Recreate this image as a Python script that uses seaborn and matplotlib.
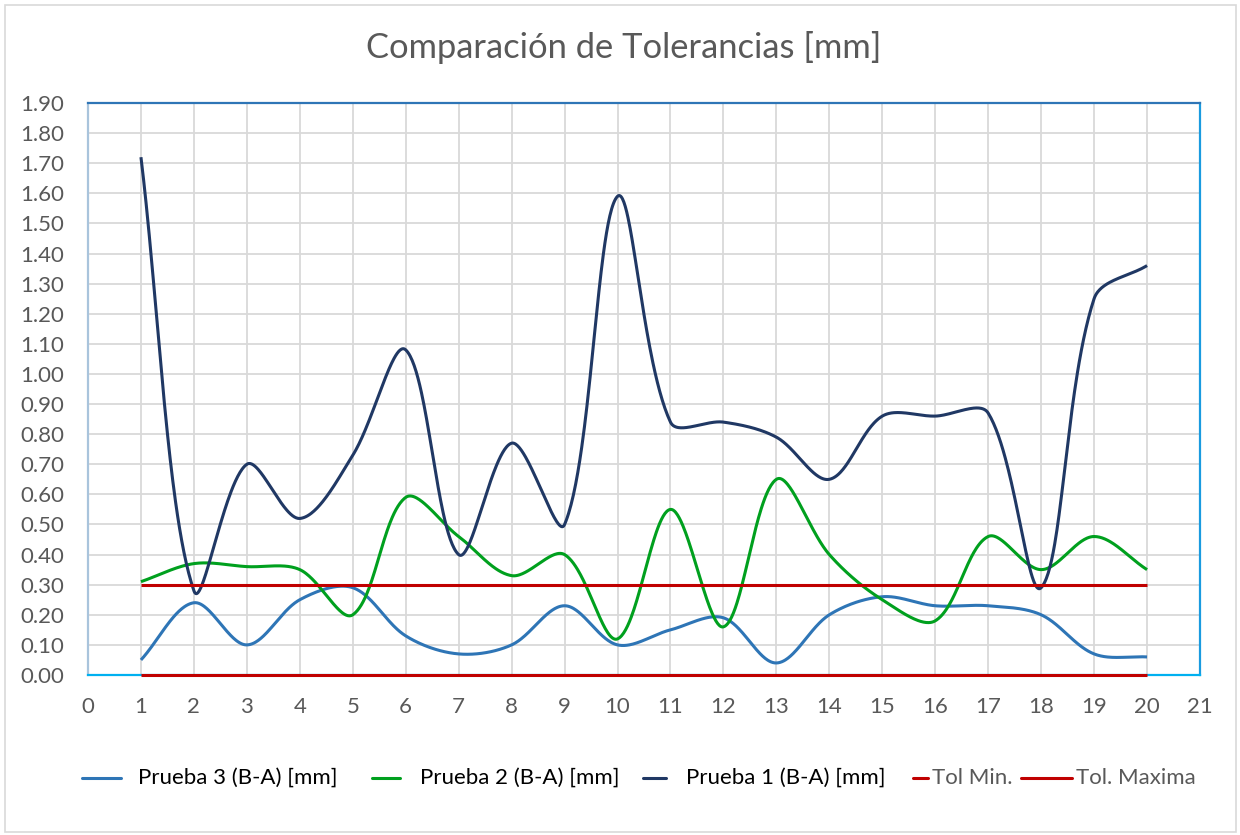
import numpy as np
import pandas as pd
import matplotlib
matplotlib.use("Agg")
import matplotlib.pyplot as plt
from matplotlib.lines import Line2D
from matplotlib.patches import Rectangle
import seaborn as sns

# Measurement data (mm)
muestras = list(range(1, 21))
prueba_3 = [0.05, 0.24, 0.10, 0.25, 0.29, 0.13, 0.07, 0.10, 0.23, 0.10,
            0.15, 0.19, 0.04, 0.20, 0.26, 0.23, 0.23, 0.20, 0.07, 0.06]
prueba_2 = [0.31, 0.37, 0.36, 0.35, 0.20, 0.59, 0.46, 0.33, 0.40, 0.12,
            0.55, 0.16, 0.65, 0.40, 0.25, 0.18, 0.46, 0.35, 0.46, 0.35]
prueba_1 = [1.72, 0.28, 0.70, 0.52, 0.73, 1.08, 0.40, 0.77, 0.50, 1.59,
            0.84, 0.84, 0.79, 0.65, 0.86, 0.86, 0.87, 0.29, 1.25, 1.36]
tol_min = [0.00] * 20
tol_max = [0.30] * 20

series_names = ["Prueba 3 (B-A) [mm]", "Prueba 2 (B-A) [mm]", "Prueba 1 (B-A) [mm]",
                "Tol Min.", "Tol. Maxima"]
series_values = [prueba_3, prueba_2, prueba_1, tol_min, tol_max]
series_colors = ["#2E75B6", "#00A01E", "#203864", "#C00000", "#C00000"]
smooth_flags = [True, True, True, False, False]

x_ticks = list(range(0, 22))
y_ticks = [round(0.1 * i, 2) for i in range(0, 20)]
title = "Comparación de Tolerancias [mm]"

X_LIM = (0, 21)
Y_LIM = (0, 1.9)
AX_RECT = [88 / 1240, 1 - 675 / 835, (1200 - 88) / 1240, (675 - 103) / 835]
FIG_PX = (1240, 835)


def smooth_curve(xs, ys, sx, sy, n=60):
    """Bezier spline through every point, with tangents scaled by the
    on-screen lengths of the neighbouring segments."""
    pts = np.column_stack([np.asarray(xs, float) * sx, np.asarray(ys, float) * sy])
    m = len(pts)
    out = [pts[0]]
    for i in range(m - 1):
        p0 = pts[max(i - 1, 0)]
        p1 = pts[i]
        p2 = pts[i + 1]
        p3 = pts[min(i + 2, m - 1)]
        d01 = np.linalg.norm(p1 - p0)
        d12 = np.linalg.norm(p2 - p1)
        d23 = np.linalg.norm(p3 - p2)
        c1 = p1 + (p2 - p0) * (d12 / (d01 + d12)) / 3.0
        c2 = p2 - (p3 - p1) * (d12 / (d12 + d23)) / 3.0
        t = np.linspace(0, 1, n)[1:, None]
        seg = ((1 - t) ** 3) * p1 + 3 * ((1 - t) ** 2) * t * c1 + 3 * (1 - t) * t ** 2 * c2 + t ** 3 * p2
        out.extend(seg)
    out = np.array(out)
    return out[:, 0] / sx, out[:, 1] / sy


sns.set_theme(style="white")
font_family = ["Lato", "DejaVu Sans"]
plt.rcParams["font.family"] = font_family

fig = plt.figure(figsize=(12.4, 8.35), dpi=100)
ax = fig.add_axes(AX_RECT)

# pixels per data unit, used for the smoothing
sx = AX_RECT[2] * FIG_PX[0] / (X_LIM[1] - X_LIM[0])
sy = AX_RECT[3] * FIG_PX[1] / (Y_LIM[1] - Y_LIM[0])

# Grid
ax.set_xticks(x_ticks)
ax.set_yticks(y_ticks)
ax.grid(True, color="#D9D9D9", linewidth=1.3, zorder=0)
ax.set_axisbelow(True)

for k, (name, vals, col, sm) in enumerate(zip(series_names, series_values, series_colors, smooth_flags)):
    if sm:
        xs, ys = smooth_curve(muestras, vals, sx, sy)
    else:
        xs, ys = np.array(muestras, float), np.array(vals, float)
    df = pd.DataFrame({"x": xs, "y": ys})
    sns.lineplot(data=df, x="x", y="y", sort=False, estimator=None, color=col,
                 linewidth=2.2, ax=ax, zorder=3 + k, legend=False)
for ln in ax.lines:
    ln.set_clip_on(False)
    ln.set_solid_capstyle("butt")

ax.set_xlim(*X_LIM)
ax.set_ylim(*Y_LIM)
ax.set_xlabel("")
ax.set_ylabel("")
ax.set_xticklabels([str(v) for v in x_ticks])
ax.set_yticklabels([f"{v:.2f}" for v in y_ticks])
ax.tick_params(axis="both", length=0, labelsize=16, labelcolor="#595959")
ax.tick_params(axis="x", pad=16)
ax.tick_params(axis="y", pad=17)

for side, col in [("top", "#2E75B6"), ("right", "#1A9BE0"), ("bottom", "#00B0F0"), ("left", "#A9C4DC")]:
    ax.spines[side].set_visible(True)
    ax.spines[side].set_color(col)
    ax.spines[side].set_linewidth(1.6)

# Title
fig.text(624 / 1240, 1 - 48 / 835, title, ha="center", va="center",
         fontsize=24.8, color="#595959", family=font_family)

# Legend row
legend_y = 1 - 778 / 835
entries = [
    (82, 121, 138, "#000000"),
    (372, 400, 420, "#000000"),
    (643, 666, 686, "#000000"),
    (913, 928, 932, "#595959"),
    (1021, 1072, 1076, "#595959"),
]
for (x0, x1, xt, tcol), name, col in zip(entries, series_names, series_colors):
    fig.add_artist(Line2D([x0 / 1240, x1 / 1240], [legend_y, legend_y], color=col,
                          linewidth=2.2, transform=fig.transFigure))
    fig.text(xt / 1240, legend_y, name, ha="left", va="center", fontsize=16,
             color=tcol, family=font_family)

# Chart area border
fig.add_artist(Rectangle((5 / 1240, 3 / 835), 1231 / 1240, 827 / 835, fill=False,
                         edgecolor="#D9D9D9", linewidth=1.2, transform=fig.transFigure))

fig.savefig("out.png", dpi=100, facecolor="white")
